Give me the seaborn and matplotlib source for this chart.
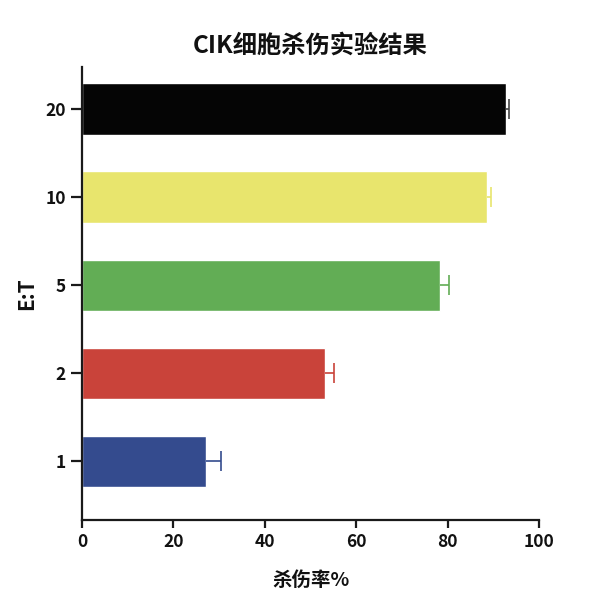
import matplotlib
matplotlib.use('Agg')
from matplotlib import pyplot as plt
import pandas as pd
import seaborn as sns

# data
ratios = ['20', '10', '5', '2', '1']
kill_rate = [92.8, 88.6, 78.3, 53.2, 27.1]
kill_err = [0.5, 0.9, 2.0, 2.0, 3.4]
bar_colors = ['#050505', '#e8e56d', '#62ad55', '#c9433a', '#344b8e']

df = pd.DataFrame({'ratio': ratios, 'rate': kill_rate})

sns.set_style('ticks')
plt.rcParams['font.family'] = ['Noto Sans CJK SC', 'DejaVu Sans']
plt.rcParams['font.weight'] = 'heavy'
plt.rcParams['text.color'] = '#111111'
plt.rcParams['axes.labelcolor'] = '#111111'
plt.rcParams['xtick.color'] = '#111111'
plt.rcParams['ytick.color'] = '#111111'

fig = plt.figure(figsize=(6.12, 6.12), dpi=100)
ax = fig.add_axes([0.134, 0.150, 0.747, 0.741])

sns.barplot(data=df, x='rate', y='ratio', order=ratios, hue='ratio',
            palette=dict(zip(ratios, bar_colors)), orient='h', saturation=1,
            errorbar=None, width=0.58, legend=False, ax=ax)

# one-sided error bars, coloured like the bars
for i, (v, e, c) in enumerate(zip(kill_rate, kill_err, bar_colors)):
    ec = '#444444' if c == '#050505' else c
    _, caps, _ = ax.errorbar(v, i, xerr=[[0], [e]], fmt='none', ecolor=ec,
                             elinewidth=1.2, capsize=7, capthick=1.2)
    caps[0].set_visible(False)

ax.set_xlim(0, 100)
ax.set_ylim(4.67, -0.48)
ax.set_xticks([0, 20, 40, 60, 80, 100])

for side in ['top', 'right']:
    ax.spines[side].set_visible(False)
for side in ['left', 'bottom']:
    ax.spines[side].set_linewidth(1.6)
    ax.spines[side].set_color('#1a1a1a')
ax.tick_params(axis='x', length=6, width=1.6, labelsize=12.5, color='#1a1a1a')
ax.tick_params(axis='y', length=8, width=1.6, labelsize=12.5, color='#1a1a1a')
for lab in ax.get_xticklabels() + ax.get_yticklabels():
    lab.set_fontweight('heavy')

ax.set_xlabel('杀伤率%', fontsize=14, fontweight='heavy', labelpad=14)
ax.set_ylabel('E:T', fontsize=15, fontweight='heavy', labelpad=6)
ax.set_title('CIK细胞杀伤实验结果', fontsize=17.5, fontweight='heavy', pad=10)

fig.savefig('out.png', dpi=100)
